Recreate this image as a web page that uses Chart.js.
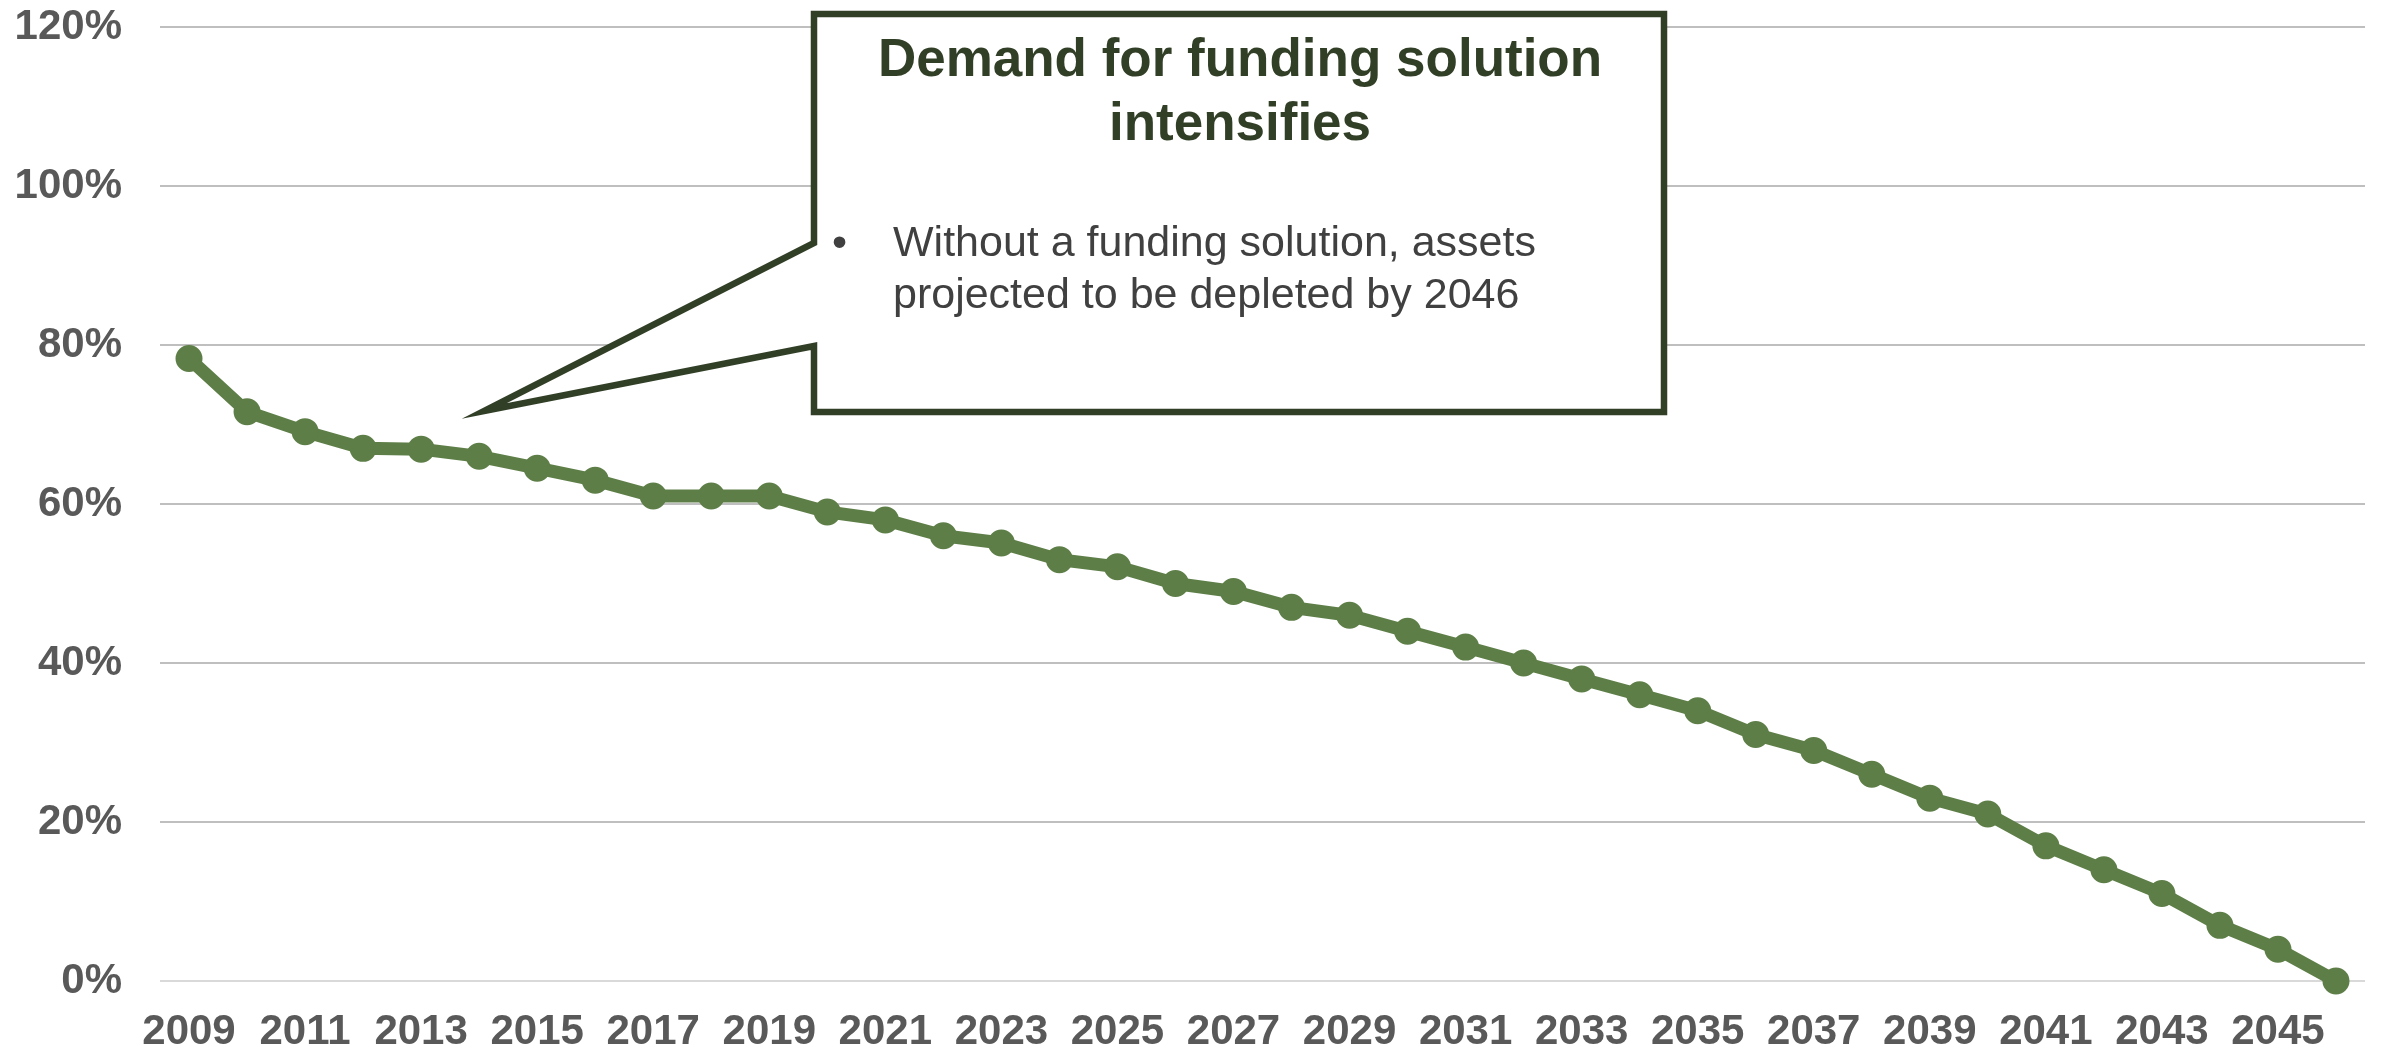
<!DOCTYPE html>
<html lang="en">
<head>
    <meta charset="UTF-8">
    <title>Funded ratio projection</title>
    <script src="https://cdn.jsdelivr.net/npm/chart.js"></script>
    <style>
        body {
            margin: 0;
            padding: 0;
            background: #ffffff;
        }
        #grafico {
            display: block;
        }
    </style>
</head>
<body>
    <canvas id="grafico" width="2382" height="1051"></canvas>

    <script>
        // años de la proyección
        const years = [];
        for (let y = 2009; y <= 2046; y++) years.push(String(y));

        // porcentaje de activos por año (%)
        const fundedPct = [
            78.3, 71.6, 69.1, 67.0, 66.9, 66.0, 64.5, 63.0, 61.0, 61.0,
            61.0, 59.0, 58.0, 56.0, 55.1, 53.0, 52.1, 50.0, 49.0, 47.0,
            46.0, 44.0, 42.0, 40.0, 38.0, 36.0, 34.0, 31.0, 29.0, 26.0,
            23.0, 21.0, 17.0, 14.0, 11.0, 7.0, 4.0, 0
        ];

        const yTicks = [0, 20, 40, 60, 80, 100, 120];

        const calloutTitle = ["Demand for funding solution", "intensifies"];
        const calloutBullet = ["Without a funding solution, assets", "projected to be depleted by 2046"];

        const fuente = '"Liberation Sans", Arial, sans-serif';
        const verde = "#5e7e48";
        const verdeOscuro = "#323f27";
        const gris = "#595959";

        // recuadro con flecha dibujado encima del gráfico
        const calloutPlugin = {
            id: "callout",
            afterDraw(chart) {
                const ctx = chart.ctx;
                ctx.save();
                ctx.beginPath();
                ctx.moveTo(814, 14);
                ctx.lineTo(1664, 14);
                ctx.lineTo(1664, 412);
                ctx.lineTo(814, 412);
                ctx.lineTo(814, 346);
                ctx.lineTo(484, 411);
                ctx.lineTo(814, 243);
                ctx.closePath();
                ctx.fillStyle = "#ffffff";
                ctx.fill();
                ctx.lineWidth = 6.5;
                ctx.lineJoin = "miter";
                ctx.strokeStyle = verdeOscuro;
                ctx.stroke();

                ctx.fillStyle = verdeOscuro;
                ctx.font = "bold 53px " + fuente;
                ctx.textAlign = "center";
                ctx.textBaseline = "middle";
                ctx.fillText(calloutTitle[0], 1240, 61);
                ctx.fillText(calloutTitle[1], 1240, 125);

                ctx.fillStyle = "#404040";
                ctx.font = "43px " + fuente;
                ctx.textAlign = "left";
                ctx.fillText("\u2022", 832, 244);
                ctx.fillText(calloutBullet[0], 893, 244);
                ctx.fillText(calloutBullet[1], 893, 296);
                ctx.restore();
            }
        };

        new Chart(document.getElementById("grafico").getContext("2d"), {
            type: "line",
            data: {
                labels: years,
                datasets: [{
                    data: fundedPct,
                    borderColor: verde,
                    backgroundColor: verde,
                    borderWidth: 13,
                    pointRadius: 12,
                    pointBorderWidth: 3,
                    pointBackgroundColor: verde,
                    pointBorderColor: verde,
                    tension: 0,
                    fill: false,
                    clip: false
                }]
            },
            options: {
                responsive: false,
                animation: false,
                devicePixelRatio: 1,
                layout: { autoPadding: false, padding: { top: 27, right: 17, left: 0, bottom: 0 } },
                plugins: {
                    legend: { display: false },
                    tooltip: { enabled: false }
                },
                scales: {
                    x: {
                        offset: true,
                        grid: { display: false, drawTicks: false },
                        border: { display: false },
                        ticks: {
                            autoSkip: false,
                            maxRotation: 0,
                            padding: 26,
                            color: gris,
                            font: { family: fuente, size: 42, weight: "bold" },
                            callback: (v, i) => (i % 2 === 0 ? years[i] : "")
                        },
                        afterFit: (s) => { s.height = 70; }
                    },
                    y: {
                        min: yTicks[0],
                        max: yTicks[yTicks.length - 1],
                        afterBuildTicks: (s) => { s.ticks = yTicks.map(v => ({ value: v })); },
                        grid: {
                            drawTicks: false,
                            lineWidth: 2,
                            color: (c) => (c.tick && c.tick.value === 0 ? "#d9d9d9" : "#bfbfbf")
                        },
                        border: { display: false },
                        ticks: {
                            padding: 38,
                            color: gris,
                            font: { family: fuente, size: 42, weight: "bold" },
                            callback: (v) => v + "%"
                        },
                        afterFit: (s) => {
                            s.width = 160;
                            s.paddingTop = 0;
                            s.paddingBottom = 0;
                        }
                    }
                }
            },
            plugins: [calloutPlugin]
        });
    </script>
</body>
</html>
